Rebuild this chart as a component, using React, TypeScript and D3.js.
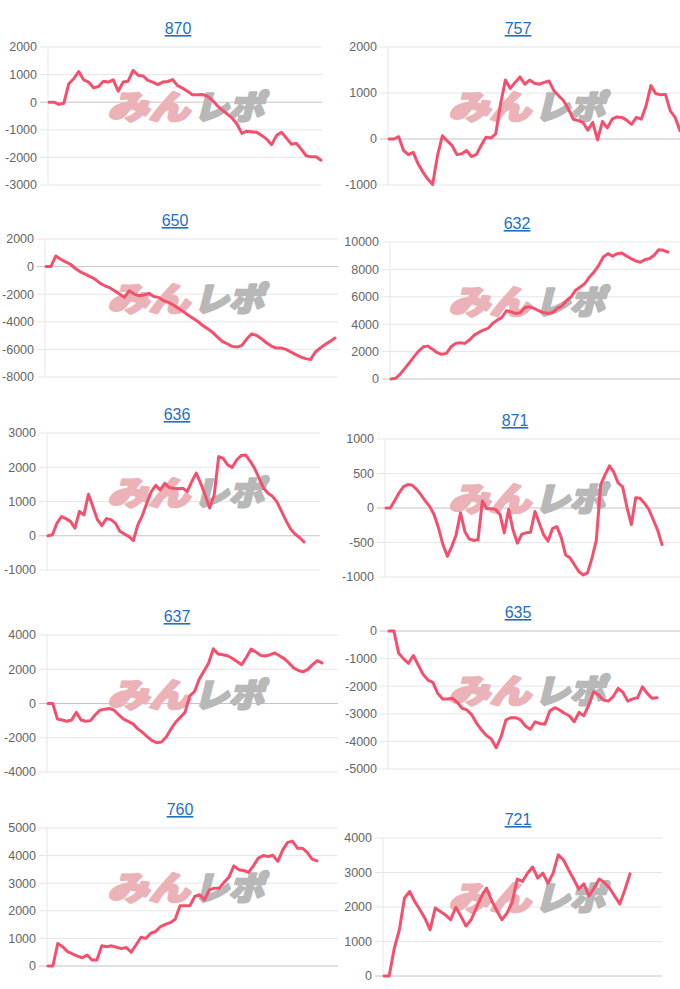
import React from "react";
import * as d3 from "d3";

const titles = ["870", "757", "650", "632", "636", "871", "637", "635", "760", "721"];

const s870 = [0, 0, -80, -40, 670, 850, 1110, 810, 730, 520, 570, 760, 730, 810, 400, 730, 760, 1150, 980, 950, 790, 730, 640, 730, 750, 820, 600, 510, 400, 270, 270, 280, 220, 80, -120, -280, -420, -570, -790, -1130, -1050, -1070, -1090, -1210, -1330, -1540, -1210, -1090, -1300, -1520, -1490, -1700, -1940, -1980, -1980, -2100];
const s757 = [0, 0, 50, -250, -340, -290, -540, -720, -870, -990, -360, 70, -40, -140, -340, -320, -250, -380, -340, -140, 40, 20, 110, 760, 1280, 1100, 1230, 1350, 1190, 1280, 1210, 1190, 1230, 1260, 1050, 940, 830, 650, 430, 400, 360, 190, 360, -20, 380, 240, 430, 480, 470, 410, 320, 470, 430, 720, 1160, 990, 960, 970, 610, 470, 180];
const s650 = [0, 0, 770, 530, 340, 170, -140, -380, -550, -720, -910, -1200, -1390, -1530, -1750, -1990, -2230, -1750, -1990, -2110, -2060, -1940, -2160, -2230, -2470, -2590, -2780, -3020, -3260, -3500, -3740, -3980, -4270, -4510, -4750, -5110, -5420, -5590, -5780, -5830, -5710, -5230, -4870, -4990, -5230, -5520, -5760, -5900, -5900, -6000, -6190, -6380, -6550, -6670, -6740, -6190, -5900, -5640, -5420, -5180];
const s632 = [0, 50, 360, 780, 1190, 1630, 2040, 2350, 2400, 2180, 1920, 1800, 1870, 2350, 2600, 2650, 2600, 2840, 3200, 3400, 3570, 3690, 4050, 4300, 4490, 4980, 4900, 4780, 4830, 5220, 5270, 5150, 4980, 4850, 4780, 4850, 5150, 5320, 5700, 6000, 6480, 6720, 6970, 7450, 7820, 8300, 8910, 9150, 8960, 9150, 9200, 8980, 8790, 8620, 8520, 8710, 8790, 9030, 9440, 9390, 9270];
const s636 = [0, 30, 370, 560, 500, 420, 220, 710, 610, 1210, 850, 470, 300, 500, 470, 370, 130, 50, -20, -140, 320, 590, 950, 1290, 1470, 1340, 1530, 1410, 1390, 1370, 1390, 1290, 1580, 1830, 1530, 1190, 810, 1190, 2310, 2260, 2070, 1990, 2210, 2340, 2360, 2180, 1970, 1680, 1390, 1240, 1150, 980, 710, 440, 200, 50, -50, -180];
const s871 = [0, 0, 110, 220, 310, 340, 330, 270, 190, 100, 20, -100, -290, -530, -700, -560, -390, -70, -340, -450, -470, -460, 100, -10, -10, -20, -90, -360, -20, -320, -510, -380, -360, -350, -50, -220, -390, -480, -300, -270, -430, -680, -720, -820, -920, -970, -940, -730, -470, 340, 480, 610, 520, 360, 310, 10, -240, 150, 140, 70, -20, -170, -320, -530];
const s637 = [0, 0, -910, -960, -1040, -960, -520, -960, -1040, -1000, -660, -390, -330, -290, -390, -670, -910, -1040, -1190, -1480, -1680, -1930, -2160, -2290, -2250, -1970, -1500, -1100, -810, -520, 440, 690, 1410, 1890, 2370, 3200, 2890, 2850, 2790, 2640, 2450, 2270, 2700, 3180, 3010, 2810, 2770, 2850, 2950, 2790, 2620, 2370, 2080, 1930, 1850, 1990, 2270, 2500, 2370];
const s635 = [0, 0, -810, -1010, -1170, -890, -1230, -1570, -1780, -1860, -2260, -2460, -2460, -2440, -2580, -2800, -2860, -3040, -3350, -3590, -3790, -3910, -4230, -3830, -3220, -3140, -3140, -3220, -3440, -3560, -3290, -3350, -3380, -2900, -2780, -2860, -2980, -3070, -3290, -2950, -3070, -2680, -2200, -2320, -2500, -2540, -2380, -2080, -2220, -2540, -2460, -2420, -2020, -2260, -2440, -2420];
const s760 = [0, 0, 820, 700, 520, 440, 360, 300, 400, 220, 220, 730, 700, 730, 680, 630, 670, 500, 760, 1040, 1000, 1190, 1250, 1430, 1510, 1570, 1690, 2180, 2180, 2180, 2520, 2580, 2400, 2760, 2820, 2820, 3030, 3220, 3630, 3490, 3460, 3390, 3630, 3910, 4000, 3970, 4010, 3790, 4210, 4480, 4520, 4270, 4270, 4120, 3870, 3810];
const s721 = [0, 0, 800, 1340, 2260, 2450, 2160, 1920, 1670, 1340, 1970, 1870, 1770, 1630, 1990, 1740, 1450, 1630, 1970, 2300, 2550, 2190, 1900, 1630, 1820, 2130, 2810, 2740, 2980, 3160, 2840, 2980, 2690, 2980, 3510, 3370, 3080, 2810, 2520, 2670, 2320, 2550, 2810, 2710, 2550, 2320, 2090, 2500, 2960];

const series = [s870, s757, s650, s632, s636, s871, s637, s635, s760, s721];

const t870 = [-3000, -2000, -1000, 0, 1000, 2000];
const t757 = [-1000, 0, 1000, 2000];
const t650 = [-8000, -6000, -4000, -2000, 0, 2000];
const t632 = [0, 2000, 4000, 6000, 8000, 10000];
const t636 = [-1000, 0, 1000, 2000, 3000];
const t871 = [-1000, -500, 0, 500, 1000];
const t637 = [-4000, -2000, 0, 2000, 4000];
const t635 = [-5000, -4000, -3000, -2000, -1000, 0];
const t760 = [0, 1000, 2000, 3000, 4000, 5000];
const t721 = [0, 1000, 2000, 3000, 4000];

const tickSets = [t870, t757, t650, t632, t636, t871, t637, t635, t760, t721];

// panel geometry (layout only)
const frames = [
  { left: 48, right: 322, top: 47, bottom: 185, end: 321, cx: 178 },
  { left: 388, right: 680, top: 47, bottom: 185, end: 680, cx: 518 },
  { left: 45, right: 338, top: 239, bottom: 377, end: 335, cx: 175 },
  { left: 390, right: 680, top: 242, bottom: 379, end: 668, cx: 517 },
  { left: 47, right: 320, top: 433, bottom: 570, end: 304, cx: 177 },
  { left: 385, right: 680, top: 439, bottom: 577, end: 662, cx: 515 },
  { left: 47, right: 338, top: 635, bottom: 772, end: 322, cx: 177 },
  { left: 388, right: 680, top: 631, bottom: 769, end: 657, cx: 518 },
  { left: 47, right: 338, top: 828, bottom: 966, end: 317, cx: 180 },
  { left: 383, right: 662, top: 838, bottom: 976, end: 630, cx: 518 },
];

const FONT = "'Liberation Sans', Arial, Helvetica, sans-serif";
const WM_FONT = "'Noto Sans CJK JP', sans-serif";

function Panel({ idx }: { idx: number }) {
  const f = frames[idx];
  const data = series[idx];
  const ticks = tickSets[idx];
  const y = d3
    .scaleLinear()
    .domain(d3.extent(ticks) as [number, number])
    .range([f.bottom, f.top]);
  const x = d3
    .scaleLinear()
    .domain([0, data.length - 1])
    .range([f.left + 1, f.end]);
  const line = d3
    .line<number>()
    .x((_, i) => x(i))
    .y((d) => y(d));
  const wx = f.left < 200 ? 195 : 536;
  const wy = f.top + 59;
  return (
    <g>
      <text
        x={f.cx}
        y={f.top - 13}
        textAnchor="middle"
        fontFamily={FONT}
        fontSize={16}
        fill="#1f6fc5"
        style={{ textDecoration: "underline" }}
      >
        {titles[idx]}
      </text>
      {ticks.map((t) => (
        <g key={t}>
          <line
            x1={f.left - 8}
            x2={f.right}
            y1={y(t)}
            y2={y(t)}
            stroke={t === 0 ? "#c4c4c4" : "#e6e6e6"}
            strokeWidth={1}
          />
          <text
            x={f.left - 11}
            y={y(t)}
            dy="0.35em"
            textAnchor="end"
            fontFamily={FONT}
            fontSize={12.5}
            fill="#666"
          >
            {t}
          </text>
        </g>
      ))}
      <line x1={f.left} x2={f.left} y1={f.top} y2={f.bottom} stroke="#e6e6e6" strokeWidth={1} />
      <g transform={`translate(${wx},${wy}) skewX(-14)`}>
        <text
          x={-84}
          y={13}
          fontFamily={WM_FONT}
          fontWeight={900}
          fontSize={33}
          fill="#ebb3b7"
          stroke="#ebb3b7"
          strokeWidth={2.6}
          strokeLinejoin="round"
          textLength={82}
          lengthAdjust="spacingAndGlyphs"
        >
          みん
        </text>
        <text
          x={2}
          y={13}
          fontFamily={WM_FONT}
          fontWeight={900}
          fontSize={33}
          fill="#b8b8b8"
          stroke="#b8b8b8"
          strokeWidth={2.6}
          strokeLinejoin="round"
          textLength={70}
          lengthAdjust="spacingAndGlyphs"
        >
          レポ
        </text>
      </g>
      <path
        d={line(data) || ""}
        fill="none"
        stroke="#f3506e"
        strokeWidth={3}
        strokeLinejoin="round"
        strokeLinecap="round"
      />
    </g>
  );
}

export default function App() {
  return (
    <svg
      width={680}
      height={989}
      style={{ position: "absolute", left: 0, top: 0, display: "block", background: "#fff" }}
    >
      {titles.map((_, i) => (
        <Panel key={i} idx={i} />
      ))}
    </svg>
  );
}
